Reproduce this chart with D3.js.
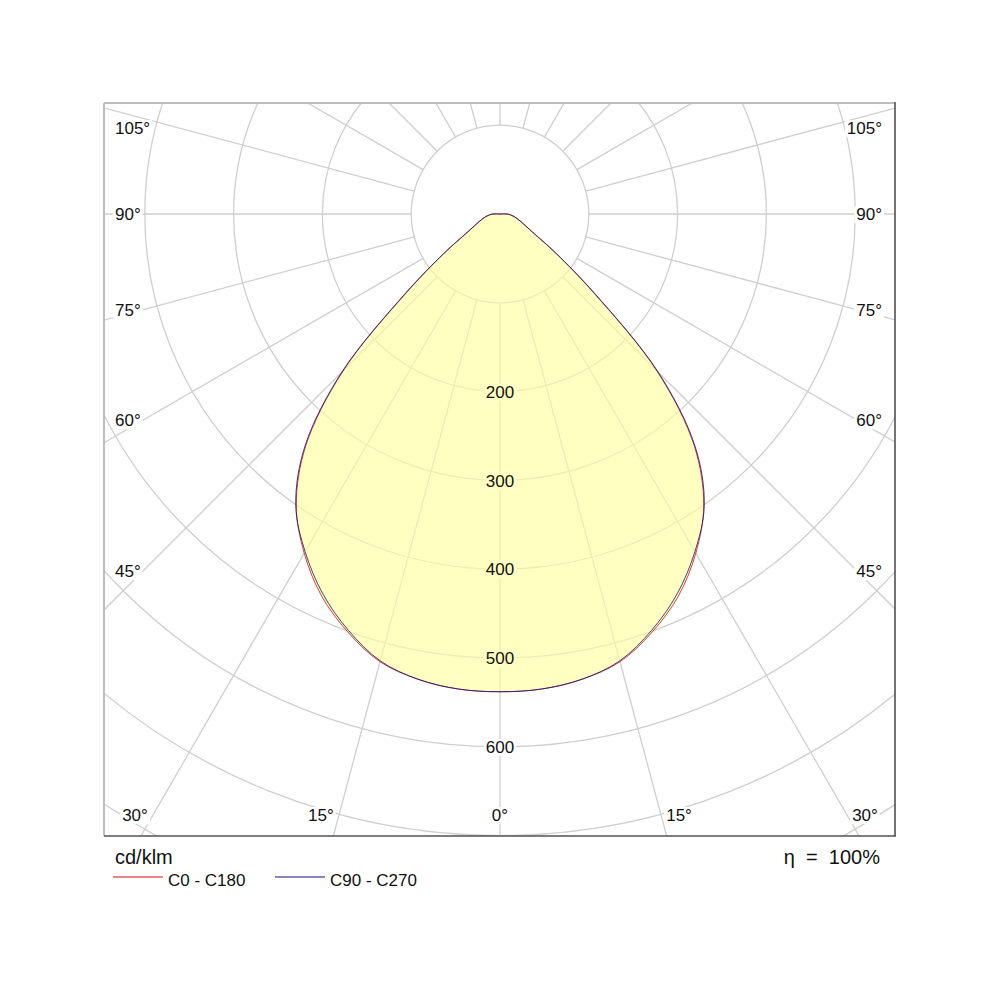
<!DOCTYPE html>
<html><head><meta charset="utf-8">
<script src="https://cdn.jsdelivr.net/npm/d3@7"></script>
<style>body{margin:0;background:#fff} svg{font-family:"Liberation Sans",Arial,sans-serif}</style>
</head><body>
<svg id="c" width="1000" height="1000"></svg>
<script>
// ---- data ----
const gammaAngles = [0,5,10,15,20,25,30,35,40,45,50,55,60,65,70,75,80,85,90,95,100,105,110,115,120,125,130,135,140,145,150,155,160,165,170,175,180];
const c0c180  = [538,537,532,522,501,475,441,400,340,250,137,76,45,32,25,20,16,12,8,0,0,0,0,0,0,0,0,0,0,0,0,0,0,0,0,0,0];
const c90c270 = [538,537,532,521,499,472,439,401,342,252,139,77,45,32,25,20,16,12,8,0,0,0,0,0,0,0,0,0,0,0,0,0,0,0,0,0,0];
const ringValues = [100,200,300,400,500,600,700,800,900];
const ringLabels = [200,300,400,500,600];
const rayAngles = [0,15,30,45,60,75,90,105,120,135,150,165,180,195,210,225,240,255,270,285,300,315,330,345];
const sideLabelAngles = [105,90,75,60,45];
const bottomLabelAngles = [-30,-15,0,15,30];
const unitLabel = "cd/klm";
const etaLabel = "η = 100%";
const seriesNames = ["C0 - C180","C90 - C270"];
const seriesColors = ["#cc1111","#10107a"];

// ---- layout ----
const box = {x0:104, y0:103, x1:895, y1:836};
const cx = 500, cy = 214;
const r = d3.scaleLinear().domain([0,100]).range([0,88.8]);
const fillColor = "#ffff9c", fillOpacity = 0.62;
const gridColor = "#cfcfcf";

const svg = d3.select("#c");
svg.append("defs").append("clipPath").attr("id","bx")
  .append("rect").attr("x",box.x0).attr("y",box.y0).attr("width",box.x1-box.x0).attr("height",box.y1-box.y0);

const grid = svg.append("g").attr("clip-path","url(#bx)");
grid.selectAll("circle").data(ringValues).join("circle")
  .attr("cx",cx).attr("cy",cy).attr("r",d=>r(d))
  .attr("fill","none").attr("stroke",gridColor).attr("stroke-width",1.3);
const rad = a => a*Math.PI/180;
grid.selectAll("line").data(rayAngles).join("line")
  .attr("x1",d=>cx + r(100)*Math.sin(rad(d))).attr("y1",d=>cy + r(100)*Math.cos(rad(d)))
  .attr("x2",d=>cx + r(1200)*Math.sin(rad(d))).attr("y2",d=>cy + r(1200)*Math.cos(rad(d)))
  .attr("stroke",gridColor).attr("stroke-width",1.3);

function curvePoints(vals){
  const pts = [];
  for(let i=gammaAngles.length-1;i>=0;i--) if(vals[i]>0) pts.push({a:Math.PI + rad(gammaAngles[i]), v:vals[i]});
  gammaAngles.forEach((g,i)=>{ if(i>0 && vals[i]>0) pts.push({a:Math.PI - rad(g), v:vals[i]}); });
  const last = gammaAngles.length-1;
  pts.push({a:0, v:vals[last]});
  return pts;
}
const radialLine = d3.lineRadial().angle(d=>d.a).radius(d=>r(d.v)).curve(d3.curveCatmullRomClosed.alpha(0.5));
const plot = svg.append("g").attr("transform",`translate(${cx},${cy})`);
plot.append("path").attr("d",radialLine(curvePoints(c0c180)))
  .attr("fill",fillColor).attr("fill-opacity",fillOpacity).attr("stroke","none");
[c0c180,c90c270].forEach((vals,i)=>{
  plot.append("path").attr("d",radialLine(curvePoints(vals)))
    .attr("fill","none").attr("stroke",seriesColors[i]).attr("stroke-width",1).attr("stroke-opacity",0.8);
});

function bgLabel(g, x, y, text, anchor, inside){
  const t = g.append("text").attr("x",x).attr("y",y).attr("dy","0.36em")
    .attr("text-anchor",anchor).attr("font-size",17).attr("fill","#111").text(text);
  const b = t.node().getBBox();
  const ins = g.insert("g", () => t.node());
  ins.append("rect").attr("x",b.x-2).attr("y",b.y+1).attr("width",b.width+4).attr("height",b.height-2).attr("fill","#fff");
  if(inside) ins.append("rect").attr("x",b.x-2).attr("y",b.y+1).attr("width",b.width+4).attr("height",b.height-2)
    .attr("fill",fillColor).attr("fill-opacity",fillOpacity);
}
const labels = svg.append("g");
ringLabels.forEach(v=>bgLabel(labels, cx, cy + r(v), String(v), "middle", v < c0c180[0]));

sideLabelAngles.forEach(g=>{
  const off = 357;
  let y = cy + off*Math.cos(rad(g))/Math.sin(rad(g));
  y = Math.max(y, box.y0 + 25);
  bgLabel(labels, box.x0 + 11, y, g + "°", "start", false);
  bgLabel(labels, box.x1 - 13, y, g + "°", "end", false);
});
bottomLabelAngles.forEach(g=>{
  const yb = 815;
  const s = Math.sign(g);
  const x = cx + (yb - cy)*Math.tan(rad(g)) + s*18;
  bgLabel(labels, x, yb, Math.abs(g) + "°", "middle", false);
});

svg.append("line").attr("x1",box.x0).attr("y1",box.y0).attr("x2",box.x1).attr("y2",box.y0).attr("stroke","#bdbdbd").attr("stroke-width",2);
svg.append("line").attr("x1",box.x0).attr("y1",box.y0).attr("x2",box.x0).attr("y2",box.y1).attr("stroke","#bdbdbd").attr("stroke-width",2);
svg.append("line").attr("x1",box.x0).attr("y1",box.y1).attr("x2",box.x1+1).attr("y2",box.y1).attr("stroke","#505050").attr("stroke-width",1.6);
svg.append("line").attr("x1",box.x1).attr("y1",box.y0-1).attr("x2",box.x1).attr("y2",box.y1).attr("stroke","#505050").attr("stroke-width",1.6);

svg.append("text").attr("x",115).attr("y",864).attr("font-size",20).attr("fill","#111").text(unitLabel);
svg.append("text").attr("x",880).attr("y",864).attr("font-size",20).attr("text-anchor","end").attr("fill","#111")
  .attr("xml:space","preserve").text(etaLabel.replace(" = ","  =  "));
const legX = [113, 275];
seriesNames.forEach((n,i)=>{
  svg.append("line").attr("x1",legX[i]).attr("x2",legX[i]+50).attr("y1",877).attr("y2",877)
    .attr("stroke",seriesColors[i]).attr("stroke-width",1.2);
  svg.append("text").attr("x",legX[i]+55).attr("y",886).attr("font-size",17).attr("fill","#111").text(n);
});
</script>
</body></html>
